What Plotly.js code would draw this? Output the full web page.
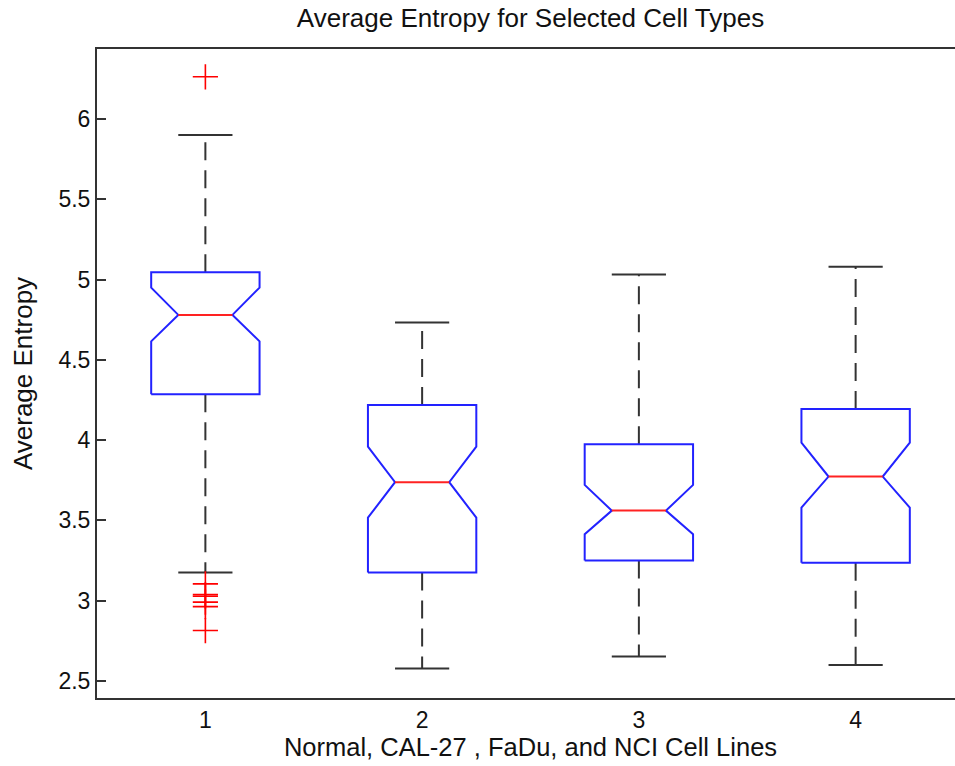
<!DOCTYPE html>
<html>
<head>
<meta charset="utf-8">
<script src="https://cdn.plot.ly/plotly-3.0.1.min.js"></script>
<style>
html, body { margin: 0; padding: 0; overflow: hidden; background: #ffffff; }
#wrap { width: 955px; height: 766px; overflow: hidden; position: relative; }
#chart { width: 966px; height: 766px; position: absolute; left: 0; top: 0; }
</style>
</head>
<body>
<div id="wrap"><div id="chart"></div></div>
<script>
// ---- data ----
const groups      = [1, 2, 3, 4];
const groupLabels = ['1', '2', '3', '4'];
const lowerCap    = [3.175, 2.577, 2.652, 2.600];
const q1          = [4.286, 3.175, 3.250, 3.237];
const notchLow    = [4.615, 3.517, 3.414, 3.580];
const medians     = [4.780, 3.738, 3.561, 3.773];
const notchHigh   = [4.950, 3.960, 3.721, 3.985];
const q3          = [5.045, 4.219, 3.974, 4.194];
const upperCap    = [5.900, 4.732, 5.031, 5.080];
const outlierGroup = [1, 1, 1, 1, 1, 1, 1];
const outlierValue = [6.263, 3.105, 3.038, 3.028, 2.991, 2.963, 2.814];
const yTickVals = [2.5, 3, 3.5, 4, 4.5, 5, 5.5, 6];
const yTickText = ['2.5', '3', '3.5', '4', '4.5', '5', '5.5', '6'];

// ---- geometry (style) ----
const halfBox = 0.25;
const halfNotch = 0.125;

const boxX = [], boxY = [];
const medX = [], medY = [];
const whiskX = [], whiskY = [];
const capX = [], capY = [];
groups.forEach((g, i) => {
  const L = g - halfBox, R = g + halfBox, nl = g - halfNotch, nr = g + halfNotch;
  boxX.push(L, L, nl, L, L, R, R, nr, R, R, L, null);
  boxY.push(q1[i], notchLow[i], medians[i], notchHigh[i], q3[i], q3[i], notchHigh[i], medians[i], notchLow[i], q1[i], q1[i], null);
  medX.push(nl, nr, null);
  medY.push(medians[i], medians[i], null);
  whiskX.push(g, g, null, g, g, null);
  whiskY.push(q3[i], upperCap[i], null, q1[i], lowerCap[i], null);
  capX.push(nl, nr, null, nl, nr, null);
  capY.push(upperCap[i], upperCap[i], null, lowerCap[i], lowerCap[i], null);
});

const traces = [
  { type: 'scatter', mode: 'lines', x: whiskX, y: whiskY, hoverinfo: 'skip',
    line: { color: '#333333', width: 2, dash: '18px,10px' } },
  { type: 'scatter', mode: 'lines', x: capX, y: capY, hoverinfo: 'skip',
    line: { color: '#333333', width: 2 } },
  { type: 'scatter', mode: 'lines', x: boxX, y: boxY, hoverinfo: 'skip',
    line: { color: '#2222ff', width: 2 } },
  { type: 'scatter', mode: 'lines', x: medX, y: medY, hoverinfo: 'skip',
    line: { color: '#ff2222', width: 2 } },
  { type: 'scatter', mode: 'markers', x: outlierGroup, y: outlierValue, hoverinfo: 'skip',
    marker: { symbol: 'cross-thin-open', size: 18, color: '#ff0000', line: { color: '#ff0000', width: 1.6 } } }
];

const font = 'Liberation Sans, Arial, Helvetica, sans-serif';
const layout = {
  width: 966, height: 766,
  margin: { l: 97, r: 2, t: 49, b: 68 },
  paper_bgcolor: '#ffffff', plot_bgcolor: '#ffffff',
  showlegend: false,
  font: { family: font, color: '#111111', size: 23 },
  title: { text: 'Average Entropy for Selected Cell Types', font: { family: font, size: 26, color: '#111111' },
           x: 0.5, xref: 'paper', y: 0.988, yref: 'container', yanchor: 'top' },
  xaxis: {
    range: [0.5, 4.5], tickvals: groups, ticktext: groupLabels, ticks: '',
    showline: true, mirror: true, linecolor: '#333333', linewidth: 2,
    showgrid: false, zeroline: false, tickfont: { size: 23 },
    title: { text: 'Normal, CAL-27 , FaDu, and NCI Cell Lines', font: { size: 25.5 }, standoff: 5 }
  },
  yaxis: {
    range: [2.394, 6.436], tickvals: yTickVals, ticktext: yTickText,
    ticks: 'inside', ticklen: 9, tickwidth: 2, tickcolor: '#333333',
    showline: true, mirror: 'ticks', linecolor: '#333333', linewidth: 2,
    showgrid: false, zeroline: false, tickfont: { size: 23 },
    title: { text: 'Average Entropy', font: { size: 26 }, standoff: 18 }
  }
};

Plotly.newPlot('chart', traces, layout, { displayModeBar: false, staticPlot: true });
</script>
</body>
</html>
